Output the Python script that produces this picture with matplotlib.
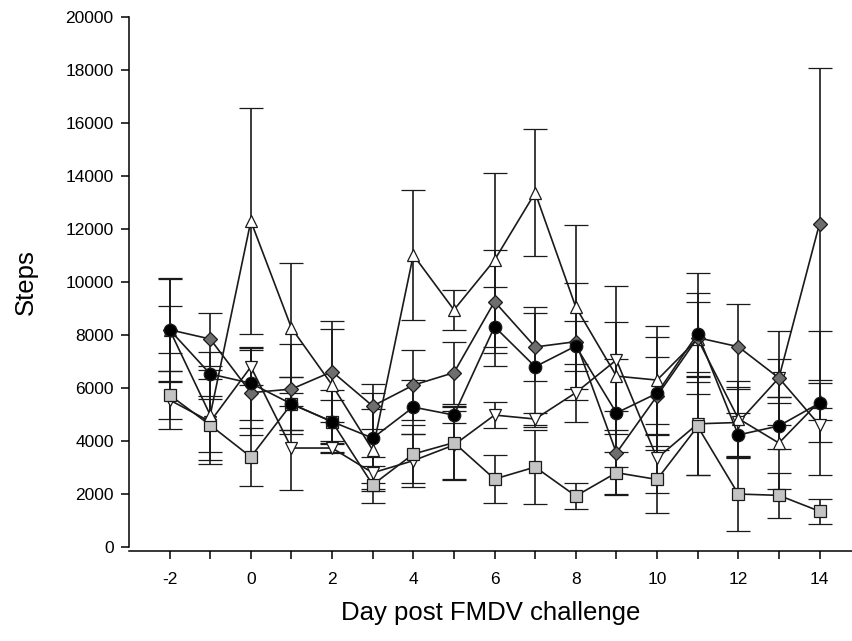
import numpy as np
from matplotlib import pyplot as plt

plt.rcParams['font.family'] = ['Liberation Sans', 'DejaVu Sans']
plt.rcParams['axes.unicode_minus'] = False

days = [-2, -1, 0, 1, 2, 3, 4, 5, 6, 7, 8, 9, 10, 11, 12, 13, 14]

# black circles
circ_mean = [8200, 6530, 6180, 5400, 4730, 4110, 5280, 4980, 8315, 6805, 7585, 5060, 5800, 8050, 4230, 4570, 5430]
circ_err = [1920, 820, 1380, 1000, 820, 1700, 1020, 300, 1500, 2260, 945, 2030, 2140, 2280, 815, 870, 2730]

# dark grey diamonds
diam_mean = [8200, 7850, 5825, 5960, 6620, 5320, 6110, 6580, 9260, 7550, 7750, 3550, 5700, 7900, 7560, 6380, 12200]
diam_err = [880, 1000, 1600, 1700, 1920, 850, 1330, 1170, 1950, 1280, 2200, 1600, 1460, 1680, 1610, 1780, 5880]

# open up-triangles
up_mean = [8200, 4980, 12300, 8265, 6115, 3660, 11020, 8950, 10830, 13370, 9055, 6450, 6300, 7850, 4850, 3925, 5500]
up_err = [1960, 1700, 4250, 2450, 2100, 1550, 2470, 750, 3280, 2400, 3100, 2050, 2040, 1400, 1400, 1750, 700]

# open down-triangles
down_mean = [5550, 4730, 6800, 3736, 3736, 2800, 3260, 3850, 4980, 4830, 5825, 7060, 3350, 4650, 4700, 6380, 4600]
down_err = [1080, 1600, 700, 1580, 150, 600, 1000, 1300, 500, 240, 1100, 2790, 1300, 1950, 1350, 700, 630]

# light grey squares
sq_mean = [5736, 4600, 3400, 5400, 4730, 2350, 3510, 3940, 2566, 3019, 1925, 2805, 2550, 4550, 2000, 1950, 1350]
sq_err = [900, 1000, 1100, 1000, 1200, 700, 1100, 1400, 900, 1400, 500, 800, 1250, 1850, 1400, 850, 480]

fig = plt.figure(figsize=(8.52, 6.41), dpi=100)
ax = fig.add_axes([0.1514, 0.1466, 0.8486, 0.8268])

series = [
    (down_mean, down_err, 'v', 'white', 8.5),
    (sq_mean, sq_err, 's', '#c4c4c4', 8),
    (up_mean, up_err, '^', 'white', 8.5),
    (diam_mean, diam_err, 'D', '#6e6e6e', 7.5),
    (circ_mean, circ_err, 'o', 'black', 9),
]
for mean, err, mk, fc, ms in series:
    ax.errorbar(days, mean, yerr=err, color='#1a1a1a', lw=1.2,
                elinewidth=1.2, capsize=8.5, capthick=1.2,
                marker=mk, ms=ms, mfc=fc, mec='#1a1a1a', mew=0.9)

ax.set_xlim(-3, 14.8)
ax.set_ylim(0, 20000)
ax.set_xticks(range(-2, 15, 2))
ax.set_xticks(range(-2, 15), minor=True)
ax.set_yticks(range(0, 20001, 2000))
ax.tick_params(axis='both', which='both', direction='out', length=6, width=1.1, labelsize=12.5)
ax.tick_params(axis='x', which='both', pad=9)
ax.tick_params(axis='y', pad=5)
ax.spines['top'].set_visible(False)
ax.spines['right'].set_visible(False)
ax.spines['bottom'].set_position(('outward', 3))
for s in ('left', 'bottom'):
    ax.spines[s].set_linewidth(1.1)

ax.set_xlabel('Day post FMDV challenge', fontsize=18.5, labelpad=10)
ax.set_ylabel('Steps', fontsize=18.5, labelpad=20)

fig.savefig('out.png', dpi=100)
